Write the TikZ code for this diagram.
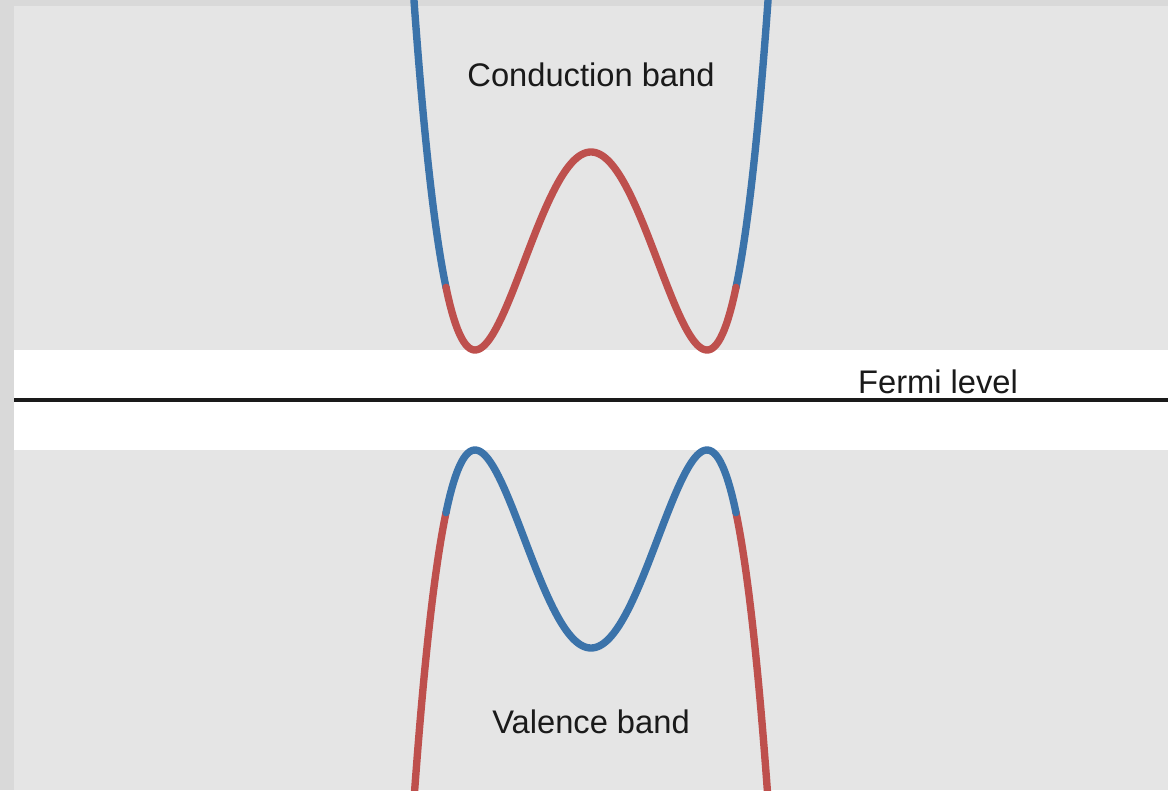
\documentclass[tikz,border=0pt]{standalone}
\usepackage{fontspec}
\setmainfont{Liberation Sans}
\definecolor{framegray}{HTML}{D9D9D9}
\definecolor{panelgray}{HTML}{E5E5E5}
\definecolor{bandred}{HTML}{BE504D}
\definecolor{bandblue}{HTML}{3B73AA}
\definecolor{fermiline}{HTML}{1A1A1A}

\begin{document}
\begin{tikzpicture}[x=0.02cm,y=-0.02cm,
  curve/.style={line width=4.2pt,line cap=round,line join=round},
  bandlabel/.style={font=\fontsize{18.6}{20}\selectfont,text=fermiline,anchor=base,inner sep=0pt}]
\useasboundingbox (0,0) rectangle (1168,790);
\clip (0,0) rectangle (1168,790);
% Background
\fill[framegray] (0,0) rectangle (1168,790);
\fill[panelgray] (14,6) rectangle (1168,790);
\fill[white] (14,350) rectangle (1168,450);
% Fermi level
\draw[fermiline,line width=2.2pt] (14,400) -- (1168,400);
\node[bandlabel] (fermi) at (938,393) {Fermi level};
% Conduction band
\draw[curve,bandblue] plot[domain=-180:-145,samples=40] ({591+\x},{350-198*((\x/116)*(\x/116)-1)*((\x/116)*(\x/116)-1)});
\draw[curve,bandblue] plot[domain=145:180,samples=40] ({591+\x},{350-198*((\x/116)*(\x/116)-1)*((\x/116)*(\x/116)-1)});
\draw[curve,bandred] plot[domain=-145:145,samples=150] ({591+\x},{350-198*((\x/116)*(\x/116)-1)*((\x/116)*(\x/116)-1)});
% Valence band
\draw[curve,bandred] plot[domain=-180:-145,samples=40] ({591+\x},{450+198*((\x/116)*(\x/116)-1)*((\x/116)*(\x/116)-1)});
\draw[curve,bandred] plot[domain=145:180,samples=40] ({591+\x},{450+198*((\x/116)*(\x/116)-1)*((\x/116)*(\x/116)-1)});
\draw[curve,bandblue] plot[domain=-145:145,samples=150] ({591+\x},{450+198*((\x/116)*(\x/116)-1)*((\x/116)*(\x/116)-1)});
% Labels
\node[bandlabel] (cband) at (591,87) {Conduction band};
\node[bandlabel] (vband) at (591,733) {Valence band};
\end{tikzpicture}
\end{document}
